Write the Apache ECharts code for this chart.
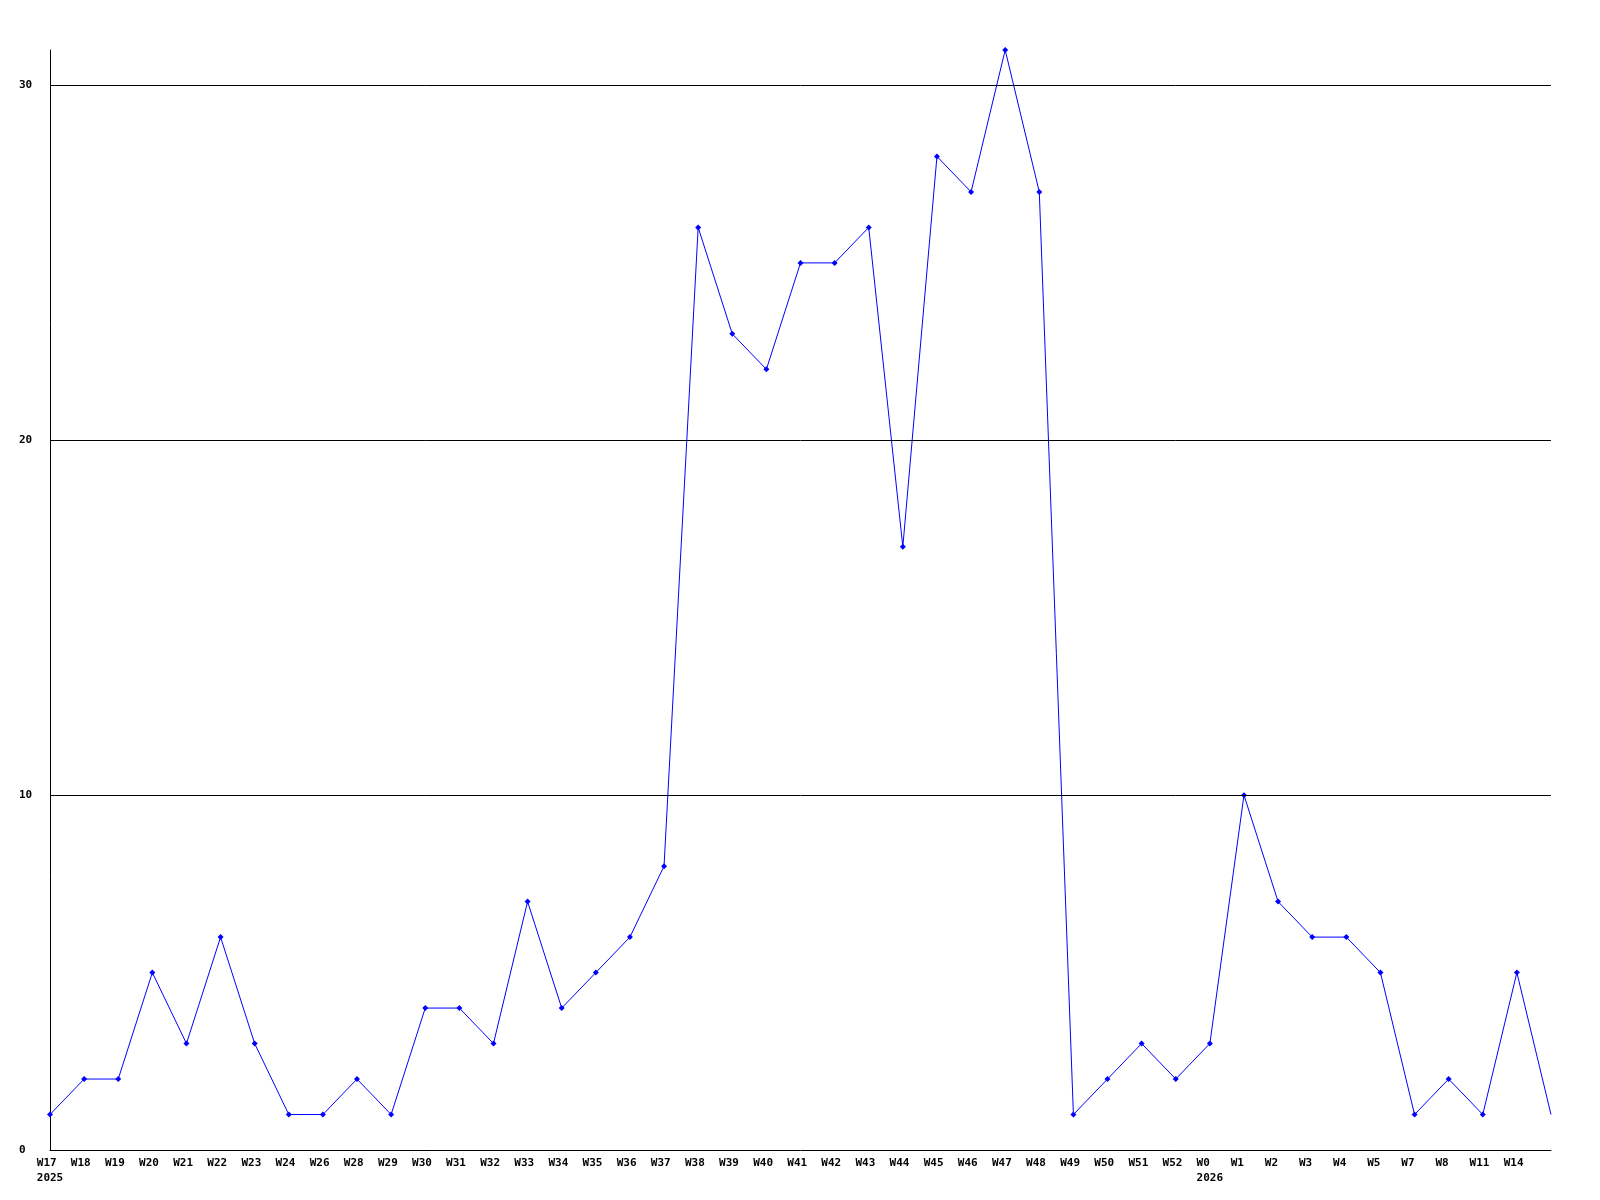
<!DOCTYPE html>
<html>
<head>
<meta charset="utf-8">
<script src="https://cdn.jsdelivr.net/npm/echarts@6/dist/echarts.min.js"></script>
<style>
html,body{margin:0;padding:0;background:#fff;}
#chart{width:1600px;height:1200px;}
</style>
</head>
<body>
<div id="chart"></div>
<script>
var weeks = ['W17','W18','W19','W20','W21','W22','W23','W24','W26','W28','W29','W30','W31','W32','W33','W34','W35','W36','W37','W38','W39','W40','W41','W42','W43','W44','W45','W46','W47','W48','W49','W50','W51','W52','W0','W1','W2','W3','W4','W5','W7','W8','W11','W14',''];
var years = {'W17':'2025','W0':'2026'};
var counts = [1,2,2,5,3,6,3,1,1,2,1,4,4,3,7,4,5,6,8,26,23,22,25,25,26,17,28,27,31,27,1,2,3,2,3,10,7,6,6,5,1,2,1,5,1];
var gridValues = [10,20,30];
var yMax = 31;

var chart = echarts.init(document.getElementById('chart'));
var font = 'DejaVu Sans Mono';
function pad4(s){ while(s.length<4) s += '\u00a0'; return s; }
var seriesData = counts.map(function(v,i){
  return i === counts.length-1 ? {value:v, symbol:'none'} : v;
});
chart.setOption({
  animation:false,
  backgroundColor:'#ffffff',
  grid:{left:50,right:49,top:50,bottom:50,containLabel:false},
  xAxis:{
    type:'category',
    data:weeks,
    boundaryGap:false,
    axisLine:{show:true,lineStyle:{color:'#000',width:1}},
    axisTick:{show:false},
    splitLine:{show:false},
    axisLabel:{
      interval:0,
      margin:6,
      color:'#000',
      fontFamily:font,
      fontWeight:'bold',
      fontSize:11,
      lineHeight:15,
      align:'center',
      formatter:function(v){
        if(!v) return '';
        var s = pad4(v);
        if(years[v]) s += '\n' + years[v];
        return s;
      }
    }
  },
  yAxis:{
    type:'value',
    min:0,
    max:yMax,
    interval:10,
    axisLine:{show:true,lineStyle:{color:'#000',width:1}},
    axisTick:{show:false},
    splitLine:{show:false},
    axisLabel:{
      showMaxLabel:false,
      margin:31,
      align:'left',
      color:'#000',
      fontFamily:font,
      fontWeight:'bold',
      fontSize:11
    }
  },
  series:[{
    type:'line',
    data:seriesData,
    symbol:'diamond',
    symbolSize:6,
    showSymbol:true,
    lineStyle:{color:'#0000ff',width:1},
    itemStyle:{color:'#0000ff'},
    markLine:{
      silent:true,
      symbol:'none',
      label:{show:false},
      lineStyle:{color:'#000',width:1,type:'solid'},
      data:gridValues.map(function(g){return {yAxis:g};})
    },
    z:3
  }]
});
</script>
</body>
</html>
